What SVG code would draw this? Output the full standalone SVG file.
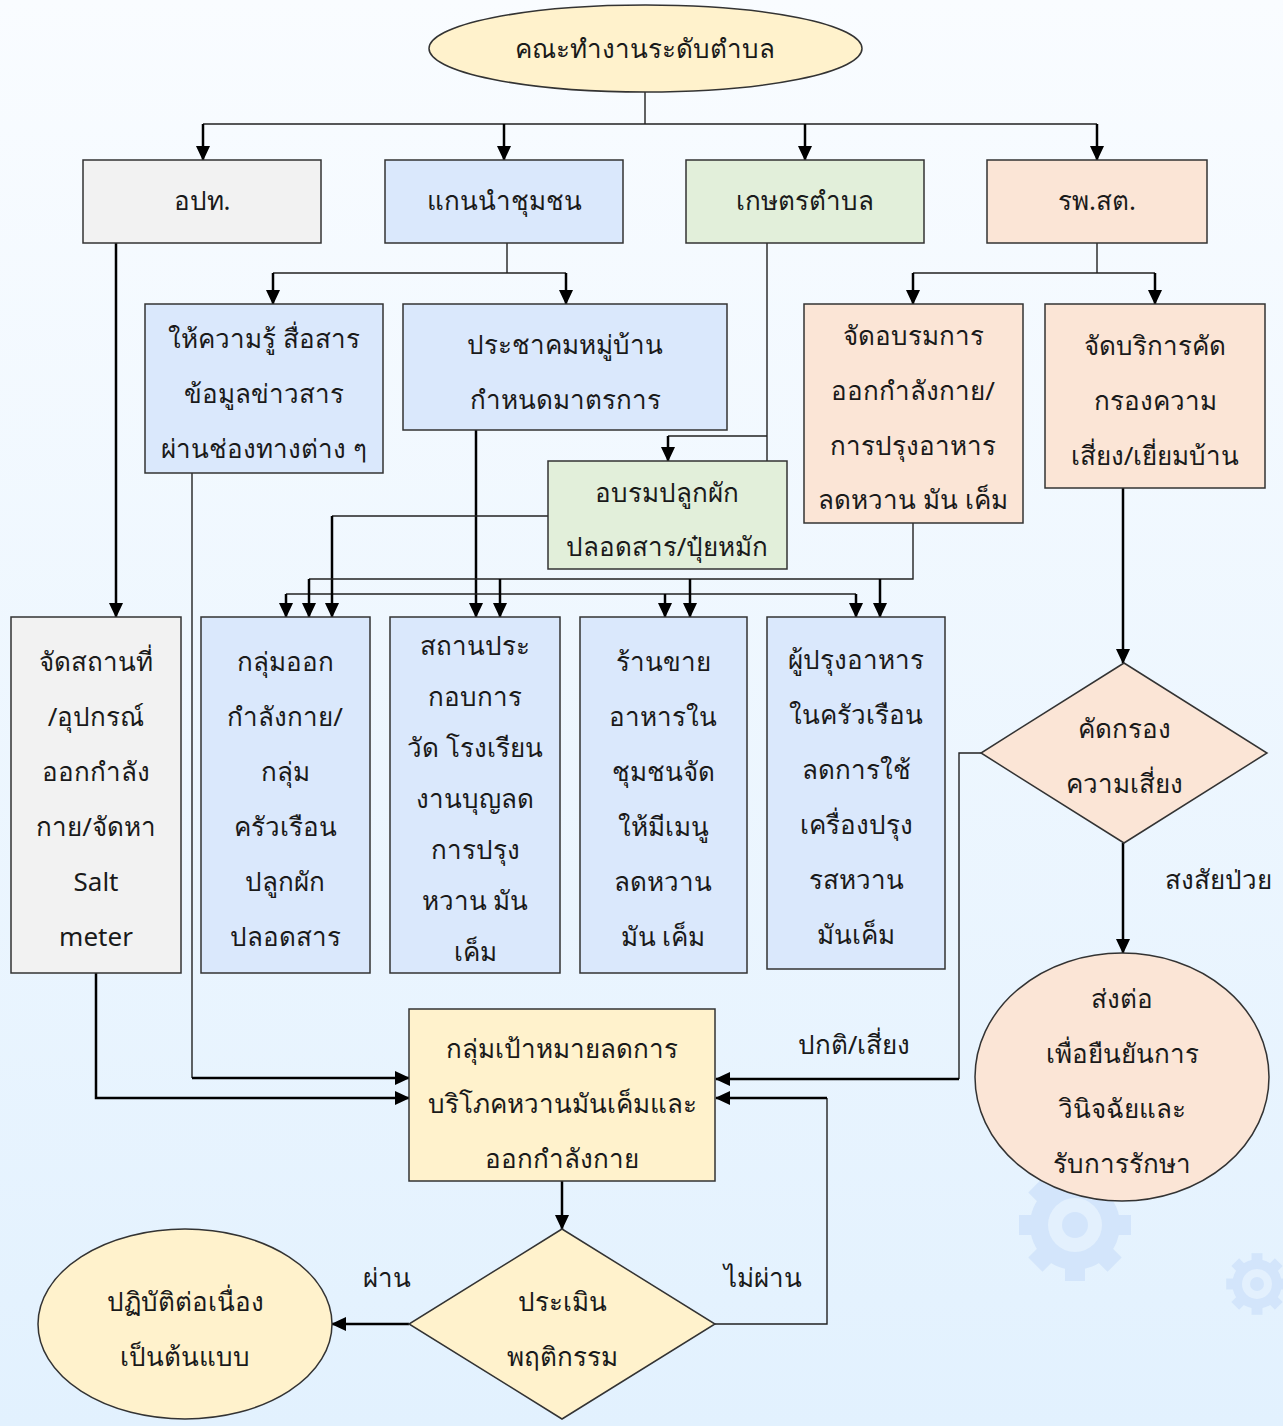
<svg xmlns="http://www.w3.org/2000/svg" width="1283" height="1426" viewBox="0 0 1283 1426">
  <defs>
    <linearGradient id="bg" x1="0" y1="0" x2="0" y2="1">
      <stop offset="0" stop-color="#f9fcff"/>
      <stop offset="1" stop-color="#e2f1fe"/>
    </linearGradient>
    <marker id="arr" markerUnits="userSpaceOnUse" markerWidth="16" markerHeight="14" refX="14" refY="7" orient="auto">
      <path d="M0,0 L15,7 L0,14 z" fill="#000"/>
    </marker>
    <g id="gear">
      <rect x="-10" y="-56" width="20" height="112"/>
      <rect x="-10" y="-56" width="20" height="112" transform="rotate(45)"/>
      <rect x="-10" y="-56" width="20" height="112" transform="rotate(90)"/>
      <rect x="-10" y="-56" width="20" height="112" transform="rotate(135)"/>
      <circle r="45"/>
    </g>
    <style>
      .box { stroke: #333; stroke-width: 1.5; }
      .gray { fill: #f2f2f2; }
      .blue { fill: #dae8fc; }
      .green { fill: #e2efda; }
      .pink { fill: #fbe5d6; }
      .cream { fill: #fff2cc; }
      text { font-family: "Noto Sans", "DejaVu Sans", sans-serif; font-size: 26px; fill: #1a1a1a; text-anchor: middle; }
      .t { fill: none; stroke: #222; stroke-width: 1.4; }
      .c { fill: none; stroke: #000; stroke-width: 2.5; }
      .a { marker-end: url(#arr); }
    </style>
  </defs>

  <rect width="1283" height="1426" fill="url(#bg)"/>

  <!-- background gears -->
  <g fill="#d3e5fb">
    <use href="#gear" transform="translate(1075,1225)"/>
    <circle cx="1075" cy="1225" r="27" fill="#e3f0fd"/>
    <circle cx="1075" cy="1225" r="13"/>
    <use href="#gear" transform="translate(1257,1284) scale(0.55)"/>
    <circle cx="1257" cy="1284" r="15" fill="#e3f0fd"/>
    <circle cx="1257" cy="1284" r="7"/>
  </g>

  <!-- connectors -->
  <g id="connectors">
    <path class="t" d="M645 92 V124 M203 124 H1097"/>
    <path class="c a" d="M203 124 V160"/>
    <path class="c a" d="M504 124 V160"/>
    <path class="c a" d="M805 124 V160"/>
    <path class="c a" d="M1097 124 V160"/>

    <path class="c a" d="M116 243 V617"/>

    <path class="t" d="M507 243 V273 M273 273 H566"/>
    <path class="c a" d="M273 273 V304"/>
    <path class="c a" d="M566 273 V304"/>

    <path class="t" d="M767 243 V461 M767 436 H668"/>
    <path class="c a" d="M668 436 V461"/>

    <path class="t" d="M1097 243 V273 M913 273 H1155"/>
    <path class="c a" d="M913 273 V304"/>
    <path class="c a" d="M1155 273 V304"/>

    <path class="c a" d="M1123 488 V663"/>
    <path class="c a" d="M1123 843 V953"/>
    <path class="t" d="M981 753 H959 V1079"/>
    <path class="c a" d="M959 1079 H716"/>

    <path class="t" d="M192 473 V1078"/>
    <path class="c a" d="M192 1078 H409"/>
    <path class="c a" d="M96 973 V1098 H409"/>

    <path class="c a" d="M476 430 V617"/>
    <path class="t" d="M286 594 H856"/>
    <path class="c a" d="M286 594 V617"/>
    <path class="c a" d="M665 594 V617"/>
    <path class="c a" d="M856 594 V617"/>

    <path class="t" d="M548 516 H332"/>
    <path class="c a" d="M332 516 V617"/>

    <path class="t" d="M913 523 V579 H309"/>
    <path class="c a" d="M309 579 V617"/>
    <path class="c a" d="M500 579 V617"/>
    <path class="c a" d="M690 579 V617"/>
    <path class="c a" d="M880 579 V617"/>

    <path class="c a" d="M562 1181 V1229"/>
    <path class="c a" d="M409 1324 H332"/>
    <path class="t" d="M715 1324 H827 V1098"/>
    <path class="c a" d="M827 1098 H716"/>

    <text x="1218" y="889">สงสัยป่วย</text>
    <text x="854" y="1054">ปกติ/เสี่ยง</text>
    <text x="387" y="1287">ผ่าน</text>
    <text x="763" y="1287">ไม่ผ่าน</text>
  </g>

  <!-- nodes -->
  <g id="n-top">
    <ellipse class="box cream" cx="645.5" cy="48.5" rx="216.5" ry="43.5"/>
    <text x="645" y="58">คณะทำงานระดับตำบล</text>
  </g>

  <g id="n-opt">
    <rect class="box gray" x="83" y="160" width="238" height="83"/>
    <text x="202" y="210">อปท.</text>
  </g>
  <g id="n-leaders">
    <rect class="box blue" x="385" y="160" width="238" height="83"/>
    <text x="504" y="210">แกนนำชุมชน</text>
  </g>
  <g id="n-agri">
    <rect class="box green" x="686" y="160" width="238" height="83"/>
    <text x="805" y="210">เกษตรตำบล</text>
  </g>
  <g id="n-hosp">
    <rect class="box pink" x="987" y="160" width="220" height="83"/>
    <text x="1097" y="210">รพ.สต.</text>
  </g>

  <g id="n-inform">
    <rect class="box blue" x="145" y="304" width="238" height="169"/>
    <text x="264" y="348">ให้ความรู้ สื่อสาร</text>
    <text x="264" y="403">ข้อมูลข่าวสาร</text>
    <text x="264" y="458">ผ่านช่องทางต่าง ๆ</text>
  </g>
  <g id="n-forum">
    <rect class="box blue" x="403" y="304" width="324" height="126"/>
    <text x="565" y="354">ประชาคมหมู่บ้าน</text>
    <text x="565" y="409">กำหนดมาตรการ</text>
  </g>
  <g id="n-grow">
    <rect class="box green" x="548" y="461" width="239" height="108"/>
    <text x="667" y="502">อบรมปลูกผัก</text>
    <text x="667" y="556">ปลอดสาร/ปุ๋ยหมัก</text>
  </g>
  <g id="n-train">
    <rect class="box pink" x="804" y="304" width="219" height="219"/>
    <text x="913" y="345">จัดอบรมการ</text>
    <text x="913" y="400">ออกกำลังกาย/</text>
    <text x="913" y="455">การปรุงอาหาร</text>
    <text x="913" y="509">ลดหวาน มัน เค็ม</text>
  </g>
  <g id="n-screen-service">
    <rect class="box pink" x="1045" y="304" width="220" height="184"/>
    <text x="1155" y="355">จัดบริการคัด</text>
    <text x="1155" y="410">กรองความ</text>
    <text x="1155" y="465">เสี่ยง/เยี่ยมบ้าน</text>
  </g>

  <g id="n-venue">
    <rect class="box gray" x="11" y="617" width="170" height="356"/>
    <text x="96" y="671">จัดสถานที่</text>
    <text x="96" y="726">/อุปกรณ์</text>
    <text x="96" y="781">ออกกำลัง</text>
    <text x="96" y="836">กาย/จัดหา</text>
    <text x="96" y="891">Salt</text>
    <text x="96" y="946">meter</text>
  </g>
  <g id="n-groups">
    <rect class="box blue" x="201" y="617" width="169" height="356"/>
    <text x="285" y="671">กลุ่มออก</text>
    <text x="285" y="726">กำลังกาย/</text>
    <text x="285" y="781">กลุ่ม</text>
    <text x="285" y="836">ครัวเรือน</text>
    <text x="285" y="891">ปลูกผัก</text>
    <text x="285" y="946">ปลอดสาร</text>
  </g>
  <g id="n-venues">
    <rect class="box blue" x="390" y="617" width="170" height="356"/>
    <text x="475" y="655">สถานประ</text>
    <text x="475" y="706">กอบการ</text>
    <text x="475" y="757">วัด โรงเรียน</text>
    <text x="475" y="808">งานบุญลด</text>
    <text x="475" y="859">การปรุง</text>
    <text x="475" y="910">หวาน มัน</text>
    <text x="475" y="961">เค็ม</text>
  </g>
  <g id="n-shops">
    <rect class="box blue" x="580" y="617" width="167" height="356"/>
    <text x="663" y="671">ร้านขาย</text>
    <text x="663" y="726">อาหารใน</text>
    <text x="663" y="781">ชุมชนจัด</text>
    <text x="663" y="836">ให้มีเมนู</text>
    <text x="663" y="891">ลดหวาน</text>
    <text x="663" y="946">มัน เค็ม</text>
  </g>
  <g id="n-cooks">
    <rect class="box blue" x="767" y="617" width="178" height="352"/>
    <text x="856" y="669">ผู้ปรุงอาหาร</text>
    <text x="856" y="724">ในครัวเรือน</text>
    <text x="856" y="779">ลดการใช้</text>
    <text x="856" y="834">เครื่องปรุง</text>
    <text x="856" y="889">รสหวาน</text>
    <text x="856" y="944">มันเค็ม</text>
  </g>

  <g id="n-screen">
    <polygon class="box pink" points="1124,663 1267,753 1124,843 981,753"/>
    <text x="1124" y="738">คัดกรอง</text>
    <text x="1124" y="793">ความเสี่ยง</text>
  </g>
  <g id="n-refer">
    <ellipse class="box pink" cx="1122" cy="1077" rx="147" ry="124"/>
    <text x="1122" y="1008">ส่งต่อ</text>
    <text x="1122" y="1063">เพื่อยืนยันการ</text>
    <text x="1122" y="1118">วินิจฉัยและ</text>
    <text x="1122" y="1173">รับการรักษา</text>
  </g>

  <g id="n-target">
    <rect class="box cream" x="409" y="1009" width="306" height="172"/>
    <text x="562" y="1058">กลุ่มเป้าหมายลดการ</text>
    <text x="562" y="1113">บริโภคหวานมันเค็มและ</text>
    <text x="562" y="1168">ออกกำลังกาย</text>
  </g>
  <g id="n-assess">
    <polygon class="box cream" points="562,1229 715,1324 562,1419 409,1324"/>
    <text x="562" y="1311">ประเมิน</text>
    <text x="562" y="1366">พฤติกรรม</text>
  </g>
  <g id="n-continue">
    <ellipse class="box cream" cx="185" cy="1324" rx="147" ry="95"/>
    <text x="185" y="1311">ปฏิบัติต่อเนื่อง</text>
    <text x="185" y="1366">เป็นต้นแบบ</text>
  </g>
</svg>
